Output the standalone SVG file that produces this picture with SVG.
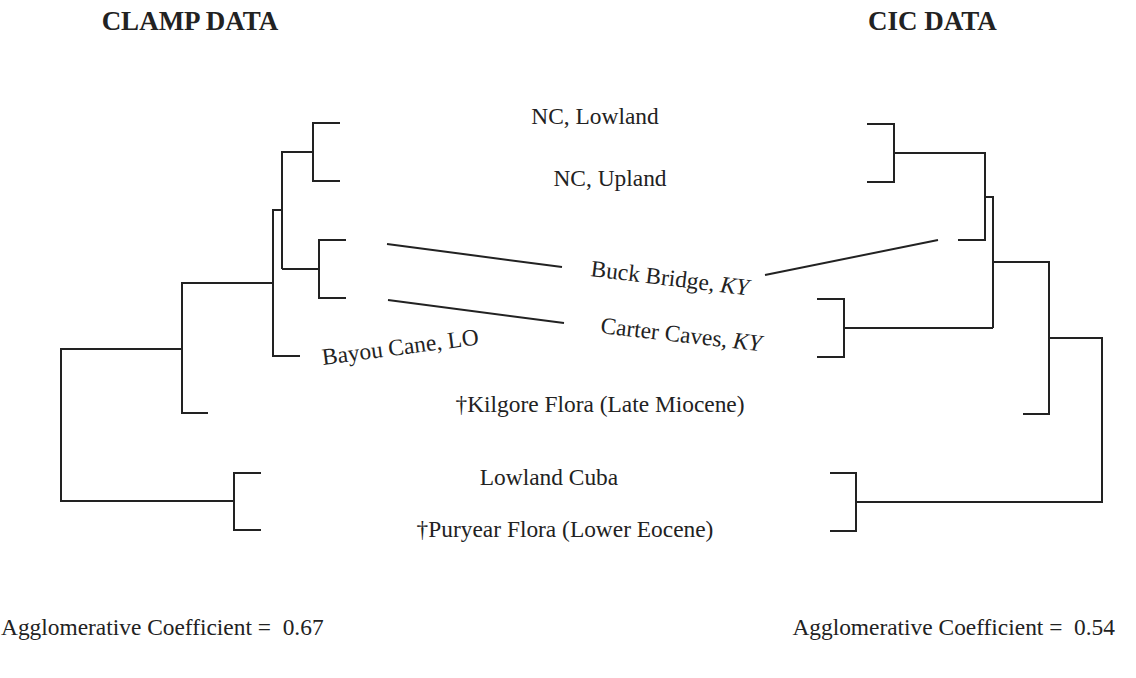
<svg xmlns="http://www.w3.org/2000/svg" width="1136" height="678" viewBox="0 0 1136 678">
<style>
.t{font-family:"Liberation Serif","Times New Roman",serif;font-size:23.4px;fill:#222}
.h{font-family:"Liberation Serif","Times New Roman",serif;font-size:27px;font-weight:bold;fill:#222}
.m{text-anchor:middle}
.ln{fill:none;stroke:#222;stroke-width:2;stroke-linecap:butt;stroke-linejoin:miter}
</style>
<rect width="1136" height="678" fill="#fff"/>
<g id="titles">
<text class="h m" x="190" y="30">CLAMP DATA</text>
<text class="h m" x="932.5" y="30">CIC DATA</text>
</g>
<g id="clamp-tree">
<path class="ln" d="M340,123 H313 V181 H340 M313,152 H282 V269 M346,240 H319 V298 H346 M319,269 H282 M282,210 H273 V356 H300 M273,283 H182 V413 H208 M182,349 H61 V501 H234 M261,473 H234 V530 H261"/>
</g>
<g id="cic-tree">
<path class="ln" d="M867,124 H894 V182 H867 M894,153 H985 V240 H958 M985,197 H993 V328 M817,299 H844 V357 H817 M844,328 H993 M993,262 H1049 V414 H1023 M1049,338 H1102 V502 H856 M830,473 H856 V531 H830"/>
</g>
<g id="connectors">
<line class="ln" x1="387" y1="244" x2="562" y2="267"/>
<line class="ln" x1="388" y1="300" x2="564" y2="323"/>
<line class="ln" x1="765" y1="275" x2="938" y2="240"/>
</g>
<g id="n-nc-lowland"><text class="t m" x="595" y="124">NC, Lowland</text></g>
<g id="n-nc-upland"><text class="t m" x="610" y="186">NC, Upland</text></g>
<g id="n-buck-bridge"><text class="t" x="590" y="276" transform="rotate(7 590 276)">Buck Bridge, <tspan font-style="italic">KY</tspan></text></g>
<g id="n-carter-caves"><text class="t" x="600" y="333" transform="rotate(6.5 600 333)">Carter Caves, <tspan font-style="italic">KY</tspan></text></g>
<g id="n-bayou-cane"><text class="t" x="323" y="365" transform="rotate(-7.5 323 365)">Bayou Cane, LO</text></g>
<g id="n-kilgore"><text class="t m" x="600" y="412">†Kilgore Flora (Late Miocene)</text></g>
<g id="n-lowland-cuba"><text class="t m" x="549" y="485">Lowland Cuba</text></g>
<g id="n-puryear"><text class="t m" x="565" y="537">†Puryear Flora (Lower Eocene)</text></g>
<g id="coefficients">
<text class="t" x="1" y="635" xml:space="preserve">Agglomerative Coefficient =  0.67</text>
<text class="t" x="1115" y="635" text-anchor="end" xml:space="preserve">Agglomerative Coefficient =  0.54</text>
</g>
</svg>
